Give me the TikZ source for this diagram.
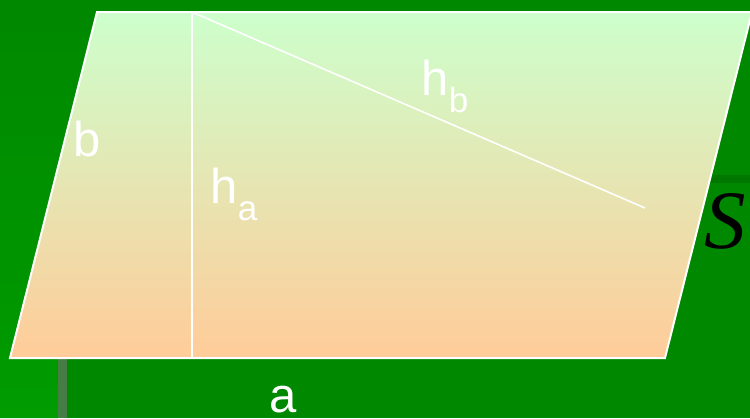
\documentclass[tikz,border=0pt]{standalone}
\usepackage{fontspec}
\setmainfont{Liberation Sans}
\newfontfamily\serifS{Liberation Serif}
\definecolor{bggreen}{HTML}{008800}
\definecolor{lightgreen}{HTML}{009C00}
\definecolor{stripgreen}{HTML}{007800}
\definecolor{bargray}{HTML}{467D46}
\definecolor{topfill}{HTML}{CCFFCC}
\definecolor{botfill}{HTML}{FFCC99}
\tikzset{
  edge/.style={draw=white, line width=2pt, line join=miter},
  helper/.style={draw=white, line width=1.6pt},
  lbl/.style={text=white, inner sep=0pt, font=\fontsize{49}{50}\selectfont},
}
\newcommand{\subtxt}[1]{\raisebox{-17pt}{\fontsize{35}{36}\selectfont #1}}
\begin{document}
\begin{tikzpicture}[x=1pt,y=-1pt]
\useasboundingbox (0,0) rectangle (750,418);
% background
\fill[bggreen] (0,0) rectangle (750,418);
\shade[top color=bggreen, bottom color=lightgreen] (0,0) -- (100,0) -- (100,358) -- (58,358) -- (58,418) -- (0,418) -- cycle;
\fill[bargray] (58,358) rectangle (67,418);
\fill[stripgreen] (690,175) rectangle (750,183);
% parallelogram
\coordinate (A) at (10,358);
\coordinate (B) at (665,358);
\coordinate (C) at (752,12);
\coordinate (D) at (97,12);
\coordinate (H) at (192,12);
\coordinate (F) at (192,358);
\coordinate (G) at (645,208);
\shade[top color=topfill, bottom color=botfill] (A) -- (B) -- (C) -- (D) -- cycle;
\draw[edge] (A) -- (B) -- (C) -- (D) -- cycle;
\draw[helper] (H) -- (F);
\draw[helper] (H) -- (G);
% labels
\node[lbl, anchor=base] (lb) at (87.5,156) {b};
\node[lbl, anchor=base west] (lha) at (210.5,203) {h\subtxt{a}};
\node[lbl, anchor=base west] (lhb) at (421.5,95) {h\subtxt{b}};
\node[lbl, anchor=base] (la) at (283,412) {a};
\node[inner sep=0pt, anchor=base west, text=black, font=\serifS\itshape\fontsize{83}{84}\selectfont] (lS) at (704,248) {S};
\end{tikzpicture}
\end{document}
